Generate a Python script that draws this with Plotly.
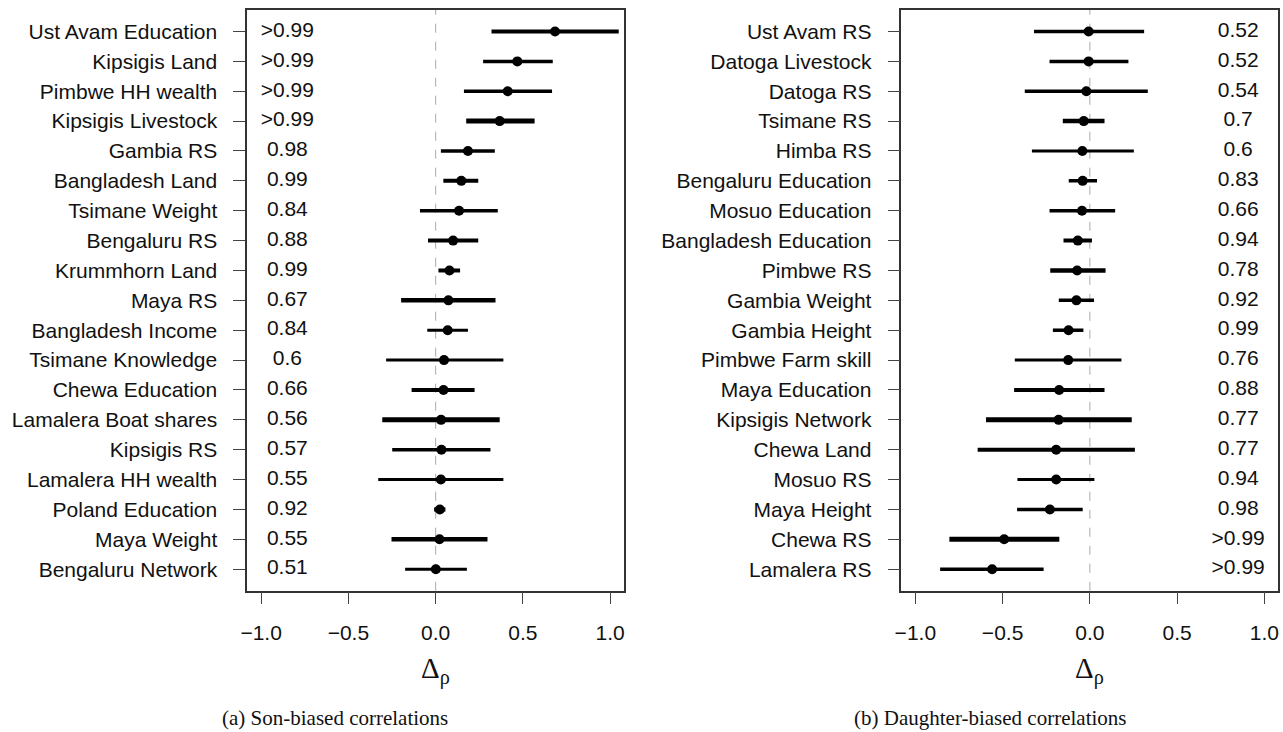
import plotly.graph_objects as go

# ---------------- data ----------------
son_labels = ["Ust Avam Education", "Kipsigis Land", "Pimbwe HH wealth", "Kipsigis Livestock",
              "Gambia RS", "Bangladesh Land", "Tsimane Weight", "Bengaluru RS", "Krummhorn Land",
              "Maya RS", "Bangladesh Income", "Tsimane Knowledge", "Chewa Education",
              "Lamalera Boat shares", "Kipsigis RS", "Lamalera HH wealth", "Poland Education",
              "Maya Weight", "Bengaluru Network"]
son_est = [0.684, 0.468, 0.413, 0.367, 0.185, 0.147, 0.134, 0.100, 0.079, 0.073,
           0.069, 0.048, 0.045, 0.031, 0.033, 0.030, 0.024, 0.022, 0.001]
son_lo = [0.320, 0.272, 0.162, 0.175, 0.030, 0.044, -0.090, -0.044, 0.016, -0.198,
          -0.048, -0.284, -0.138, -0.306, -0.249, -0.329, -0.009, -0.253, -0.175]
son_hi = [1.049, 0.671, 0.667, 0.567, 0.339, 0.244, 0.356, 0.244, 0.140, 0.343,
          0.185, 0.388, 0.223, 0.367, 0.314, 0.388, 0.056, 0.297, 0.179]
son_prob = [">0.99", ">0.99", ">0.99", ">0.99", "0.98", "0.99", "0.84", "0.88", "0.99", "0.67",
            "0.84", "0.6", "0.66", "0.56", "0.57", "0.55", "0.92", "0.55", "0.51"]

dau_labels = ["Ust Avam RS", "Datoga Livestock", "Datoga RS", "Tsimane RS", "Himba RS",
              "Bengaluru Education", "Mosuo Education", "Bangladesh Education", "Pimbwe RS",
              "Gambia Weight", "Gambia Height", "Pimbwe Farm skill", "Maya Education",
              "Kipsigis Network", "Chewa Land", "Mosuo RS", "Maya Height", "Chewa RS", "Lamalera RS"]
dau_est = [-0.007, -0.007, -0.020, -0.035, -0.043, -0.041, -0.045, -0.069, -0.073, -0.077,
           -0.122, -0.124, -0.176, -0.179, -0.193, -0.193, -0.229, -0.491, -0.560]
dau_lo = [-0.320, -0.231, -0.373, -0.155, -0.332, -0.121, -0.231, -0.151, -0.227, -0.178,
          -0.212, -0.430, -0.434, -0.595, -0.643, -0.415, -0.417, -0.805, -0.858]
dau_hi = [0.311, 0.221, 0.332, 0.084, 0.252, 0.041, 0.145, 0.012, 0.090, 0.024,
          -0.037, 0.181, 0.084, 0.240, 0.258, 0.026, -0.041, -0.175, -0.265]
dau_prob = ["0.52", "0.52", "0.54", "0.7", "0.6", "0.83", "0.66", "0.94", "0.78", "0.92",
            "0.99", "0.76", "0.88", "0.77", "0.77", "0.94", "0.98", ">0.99", ">0.99"]

x_ticks = [-1.0, -0.5, 0.0, 0.5, 1.0]
captions = ["(a) Son-biased correlations", "(b) Daughter-biased correlations"]

# ---------------- styles ----------------
son_lw = [4, 3.5, 3.5, 5, 3.5, 4, 3.5, 4, 4, 4.5, 3, 3, 4, 5, 3.5, 3, 4, 4.5, 3]
dau_lw = [3.5, 3.5, 3.5, 4.5, 3, 3.5, 3.5, 4, 4.5, 3.5, 3.5, 3, 4, 5, 4, 3, 3.5, 5, 3.5]

W, H = 1283, 732
SANS = "Liberation Sans, Arial, sans-serif"
SERIF = "Liberation Serif, Times New Roman, serif"


def px_x(v):
    return v / W


def px_y(v):
    return 1 - v / H


fig = go.Figure()

panels = [
    dict(labels=son_labels, est=son_est, lo=son_lo, hi=son_hi, prob=son_prob, lw=son_lw,
         xa="x", ya="y", textx=-0.85, dom=[px_x(241.7), px_x(621)], cap_x=px_x(330)),
    dict(labels=dau_labels, est=dau_est, lo=dau_lo, hi=dau_hi, prob=dau_prob, lw=dau_lw,
         xa="x2", ya="y2", textx=0.85, dom=[px_x(900), px_x(1279.3)], cap_x=px_x(989)),
]

ydom = [px_y(590.7), px_y(10)]

for k, p in enumerate(panels):
    n = len(p["labels"])
    ypos = [n - 1 - i for i in range(n)]
    for i in range(n):
        fig.add_trace(go.Scatter(x=[p["lo"][i], p["hi"][i]], y=[ypos[i], ypos[i]],
                                 mode="lines", line=dict(color="black", width=p["lw"][i]),
                                 xaxis=p["xa"], yaxis=p["ya"], showlegend=False,
                                 hoverinfo="skip"))
    fig.add_trace(go.Scatter(x=p["est"], y=ypos, mode="markers",
                             marker=dict(color="black", size=10),
                             xaxis=p["xa"], yaxis=p["ya"], showlegend=False))
    fig.add_trace(go.Scatter(x=[p["textx"]] * n, y=ypos, mode="text", text=p["prob"],
                             textfont=dict(family=SANS, size=21, color="#111"),
                             textposition="middle center",
                             xaxis=p["xa"], yaxis=p["ya"], showlegend=False,
                             hoverinfo="skip"))
    # dashed zero reference line
    fig.add_shape(type="line", x0=0, x1=0, y0=0, y1=1, xref=p["xa"],
                  yref=p["ya"] + " domain", line=dict(color="#aaaaaa", width=1, dash="dash"),
                  layer="below")
    axis_common = dict(showgrid=False, zeroline=False, showline=True, mirror=True,
                       linecolor="#333", linewidth=1.5, ticks="outside", ticklen=12,
                       tickcolor="#444", tickwidth=1.2,
                       tickfont=dict(family=SANS, size=21, color="#111"))
    xkey = "xaxis" if k == 0 else "xaxis2"
    ykey = "yaxis" if k == 0 else "yaxis2"
    fig.update_layout({
        xkey: dict(axis_common, domain=p["dom"], range=[-1.08, 1.08], tickvals=x_ticks,
                   tickformat=".1f", anchor=p["ya"], ticklabelstandoff=10),
        ykey: dict(axis_common, domain=ydom, range=[-0.72, n - 1 + 0.72],
                   tickvals=ypos, ticktext=p["labels"], anchor=p["xa"],
                   ticklabelstandoff=12),
    })
    fig.add_annotation(text="Δ<sub>ρ</sub>", x=0.5, xref=p["xa"] + " domain",
                       xanchor="center", y=px_y(670), yref="paper", yanchor="middle",
                       showarrow=False, font=dict(family=SERIF, size=29, color="#111"))
    fig.add_annotation(text=captions[k], x=p["cap_x"], xref="paper", xanchor="center",
                       y=px_y(718), yref="paper", yanchor="middle", showarrow=False,
                       font=dict(family=SERIF, size=21, color="#111"))

fig.update_layout(width=W, height=H, margin=dict(l=0, r=0, t=0, b=0),
                  plot_bgcolor="white", paper_bgcolor="white")

fig.write_html("out.html", config={"displayModeBar": False},
               post_script="document.body.style.margin='0px';"
                           "document.body.style.overflow='hidden';")
